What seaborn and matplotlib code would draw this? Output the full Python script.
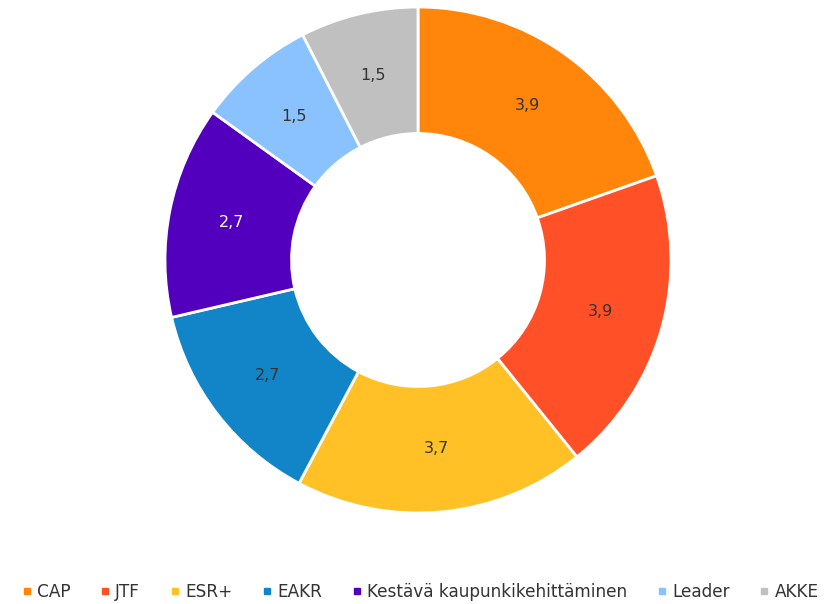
import matplotlib
matplotlib.use("Agg")
import matplotlib.pyplot as plt
from matplotlib.lines import Line2D
import seaborn as sns

sns.set_theme(style="white")
plt.rcParams['font.family'] = ['DejaVu Sans']

# data
categories = ['CAP', 'JTF', 'ESR+', 'EAKR', 'Kestävä kaupunkikehittäminen', 'Leader', 'AKKE']
values = [3.9, 3.9, 3.7, 2.7, 2.7, 1.5, 1.5]
colors = ['#FF860A', '#FF5028', '#FFC125', '#1185C8', '#5200BE', '#8AC1FF', '#C0C0C0']
label_colors = ['#333333', '#333333', '#333333', '#333333', 'white', '#333333', '#333333']

fig = plt.figure(figsize=(8.32, 6.04), dpi=100)
ax = fig.add_axes([(418 - 253) / 832, (604 - 513) / 604, 506 / 832, 506 / 604])

wedges, texts = ax.pie(
    values, colors=colors, startangle=90, counterclock=False,
    labels=[f"{v:.1f}".replace('.', ',') for v in values], labeldistance=0.75,
    wedgeprops=dict(width=0.5, edgecolor='white', linewidth=2),
    textprops=dict(fontsize=11.5),
)
for t, c in zip(texts, label_colors):
    t.set_color(c)
    t.set_ha('center')
    t.set_va('center')
ax.set_xlim(-1, 1)
ax.set_ylim(-1, 1)
ax.set_aspect('equal')

handles = [Line2D([0], [0], marker='s', linestyle='none', markersize=5,
                  markerfacecolor=c, markeredgecolor=c) for c in colors]
fig.legend(handles, categories, loc='center', bbox_to_anchor=(0.505, 1 - 592 / 604),
           ncol=7, frameon=False, fontsize=12.2, handlelength=0.6, handletextpad=0.3,
           columnspacing=1.75, labelcolor='#333333')

fig.savefig('out.png', dpi=100)
